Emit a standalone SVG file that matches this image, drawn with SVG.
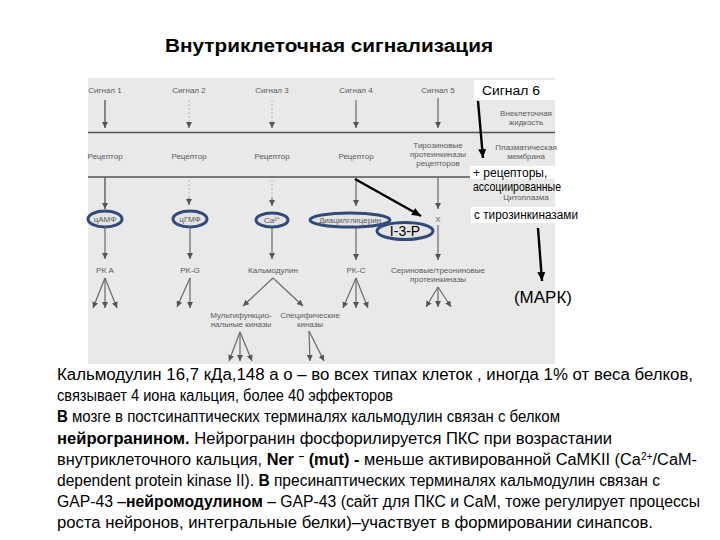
<svg xmlns="http://www.w3.org/2000/svg" width="720" height="540" viewBox="0 0 720 540">
<style>
.t{font-family:"Liberation Sans",Arial,sans-serif;font-size:8px;fill:#5a5a5a;text-anchor:middle}
.e{fill:#e4e4e4;stroke:#2f4b7c;stroke-width:3}
.mem{stroke:#555;stroke-width:1.3}
.c{stroke:#6a6a6a;stroke-width:1.2;fill:none;marker-end:url(#ah)}
.cf{stroke:#a8a8a8;stroke-width:0.8;stroke-dasharray:2 2;fill:none}
.b{stroke:#000;stroke-width:2.4;fill:none;marker-end:url(#bh)}
.ov{font-family:"Liberation Sans",Arial,sans-serif;fill:#000}
.p{font-family:"Liberation Sans",Arial,sans-serif;font-size:16px;fill:#000}
.bold{font-weight:bold}
</style>
<defs>
<marker id="ah" markerWidth="8" markerHeight="8" refX="6" refY="3" orient="auto" markerUnits="userSpaceOnUse"><path d="M0,0 L6,3 L0,6 z" fill="#555"/></marker>
<marker id="bh" markerWidth="12" markerHeight="12" refX="9" refY="4" orient="auto" markerUnits="userSpaceOnUse"><path d="M0,0 L9,4 L0,8 z" fill="#000"/></marker>
</defs>
<rect width="720" height="540" fill="#fff"/>
<text x="329" y="52" class="ov bold" font-size="18" text-anchor="middle" textLength="328" lengthAdjust="spacingAndGlyphs">Внутриклеточная сигнализация</text>
<rect x="88" y="78" width="467" height="286" fill="#e9e9e9"/>
<line class="mem" x1="88" y1="132.5" x2="555" y2="132.5"/>
<line class="mem" x1="88" y1="177" x2="555" y2="177"/>
<g id="signals">
<text class="t" x="105" y="93">Сигнал 1</text>
<text class="t" x="189" y="93">Сигнал 2</text>
<text class="t" x="272" y="93">Сигнал 3</text>
<text class="t" x="356" y="93">Сигнал 4</text>
<text class="t" x="438" y="93">Сигнал 5</text>
</g>
<g id="zones">
<text class="t" x="526" y="116" font-size="7.5">Внеклеточная</text>
<text class="t" x="526" y="125" font-size="7.5">жидкость</text>
<text class="t" x="526" y="150" font-size="7.5">Плазматическая</text>
<text class="t" x="526" y="159" font-size="7.5">мембрана</text>
<text class="t" x="526" y="200" font-size="7.5">Цитоплазма</text>
</g>
<g id="receptors">
<text class="t" x="105" y="159">Рецептор</text>
<text class="t" x="189" y="159">Рецептор</text>
<text class="t" x="272" y="159">Рецептор</text>
<text class="t" x="356" y="159">Рецептор</text>
<text class="t" x="438" y="148" font-size="7.5">Тирозиновые</text>
<text class="t" x="438" y="157" font-size="7.5">протеинкиназы</text>
<text class="t" x="438" y="166" font-size="7.5">рецепторов</text>
</g>
<g id="camp"><ellipse class="e" cx="105" cy="219" rx="17" ry="8"/><text class="t" x="105" y="222" font-size="7.5">цАМФ</text></g>
<g id="cgmp"><ellipse class="e" cx="190" cy="219" rx="17" ry="8"/><text class="t" x="190" y="222" font-size="7.5">цГМФ</text></g>
<g id="ca"><ellipse class="e" cx="272" cy="220" rx="16" ry="7"/><text class="t" x="272" y="223" font-size="7.5">Ca²⁺</text></g>
<g id="dag"><ellipse class="e" cx="350" cy="220" rx="40" ry="7"/><text class="t" x="350" y="223" font-size="7.5">Диацилглицерин</text></g>
<g id="x"><text class="t" x="438" y="222">X</text></g>
<g id="ip3"><ellipse class="e" cx="405" cy="231" rx="28" ry="8.5"/><text class="ov" x="405" y="236" font-size="14" text-anchor="middle">I-3-P</text></g>
<g id="pka"><text class="t" x="105" y="273">PK A</text></g>
<g id="pkg"><text class="t" x="190" y="273">PK-G</text></g>
<g id="cam"><text class="t" x="273" y="273">Кальмодулин</text></g>
<g id="pkc"><text class="t" x="356" y="273">PK-C</text></g>
<g id="ser"><text class="t" x="438" y="273" font-size="7.5">Сериновые/треониновые</text><text class="t" x="438" y="282" font-size="7.5">протеинкиназы</text></g>
<g id="multi"><text class="t" x="241" y="318" font-size="7.5">Мультифункцио-</text><text class="t" x="241" y="327" font-size="7.5">нальные киназы</text></g>
<g id="spec"><text class="t" x="310" y="318" font-size="7.5">Специфические</text><text class="t" x="310" y="327" font-size="7.5">киназы</text></g>
<g id="sig6">
<rect x="474" y="80" width="81" height="20" fill="#fff"/>
<text class="ov" x="482" y="95" font-size="12.5" textLength="58" lengthAdjust="spacingAndGlyphs">Сигнал 6</text>
</g>
<g id="rtk">
<rect x="470" y="166" width="85" height="13" fill="#fff"/>
<text class="ov" x="473" y="177" font-size="12">+ рецепторы,</text>
<text class="ov" x="473" y="191" font-size="12" textLength="88" lengthAdjust="spacingAndGlyphs">ассоциированные</text>
<rect x="471" y="207" width="108" height="16" fill="#fff"/>
<text class="ov" x="474" y="219" font-size="12.5" textLength="104" lengthAdjust="spacingAndGlyphs">с тирозинкиназами</text>
</g>
<g id="mapk"><text class="ov" x="543" y="303" font-size="17" text-anchor="middle">(МАРК)</text></g>
<g id="connectors">
<path class="c" d="M105,100 V128" style="stroke:#444"/>
<path class="cf" d="M189,100 V122"/><path class="c" d="M189,122 V128"/>
<path class="cf" d="M272,100 V122"/><path class="c" d="M272,122 V128"/>
<path class="c" d="M356,100 V128"/>
<path class="c" d="M438,98 V128"/>
<path class="c" d="M105,177 V209" style="stroke:#444"/>
<path class="cf" d="M189,180 V198"/><path class="c" d="M189,198 V205"/>
<path class="cf" d="M272,180 V198"/><path class="c" d="M272,198 V206"/>
<path class="c" d="M356,177 V206"/>
<path class="c" d="M438,177 V209"/>
<path class="c" d="M105,227 V259"/>
<path class="c" d="M190,227 V259"/>
<path class="c" d="M272,228 V259"/>
<path class="c" d="M356,228 V260"/>
<path class="c" d="M438,225 V260"/>
<path class="c" d="M105,278 L93,308"/><path class="c" d="M105,278 V308"/><path class="c" d="M105,278 L117,308"/>
<path class="c" d="M190,278 L177,307"/><path class="c" d="M190,278 V308"/>
<path class="c" d="M273,278 L243,306"/><path class="c" d="M273,278 L303,306"/>
<path class="c" d="M240,332 L229,361"/><path class="c" d="M240,332 V361"/><path class="c" d="M240,332 L252,361"/>
<path class="c" d="M309,331 L310,361"/><path class="c" d="M309,331 L324,361"/>
<path class="c" d="M356,278 L343,308"/><path class="c" d="M356,278 V308"/><path class="c" d="M356,278 L368,308"/>
<path class="c" d="M438,287 L426,307"/><path class="c" d="M438,287 V307"/><path class="c" d="M438,287 L451,307"/>
<path class="b" d="M355,179 L421,216"/>
<path class="b" d="M478,101 L483,158"/>
<path class="b" d="M538,228 L542,281"/>
</g>
<g id="notes">
<text class="p" x="57" y="380" textLength="636" lengthAdjust="spacingAndGlyphs">Кальмодулин 16,7 кДа,148 а о  – во всех типах клеток , иногда 1% от веса белков,</text>
<text class="p" x="57" y="401" textLength="336" lengthAdjust="spacingAndGlyphs">связывает 4 иона кальция, более 40 эффекторов</text>
<text class="p" x="57" y="422" textLength="503" lengthAdjust="spacingAndGlyphs"><tspan class="bold">В</tspan> мозге в постсинаптических терминалях кальмодулин связан с белком</text>
<text class="p" x="57" y="444" textLength="555" lengthAdjust="spacingAndGlyphs"><tspan class="bold">нейрогранином.</tspan> Нейрогранин фосфорилируется ПКС при возрастании</text>
<text class="p" x="57" y="465" textLength="640" lengthAdjust="spacingAndGlyphs">внутриклеточного кальция, <tspan class="bold">Ner </tspan><tspan class="bold" font-size="10" dy="-5">–</tspan><tspan class="bold" dy="5"> (mut)  -</tspan> меньше активированной CaMKII (Ca<tspan font-size="10" dy="-5">2+</tspan><tspan dy="5">/CaM-</tspan></text>
<text class="p" x="57" y="486" textLength="603" lengthAdjust="spacingAndGlyphs">dependent protein kinase II). <tspan class="bold">В</tspan> пресинаптических терминалях кальмодулин связан с</text>
<text class="p" x="57" y="507" textLength="643" lengthAdjust="spacingAndGlyphs">GAP-43 –<tspan class="bold">нейромодулином</tspan> – GAP-43 (сайт для ПКС и CaM, тоже регулирует процессы</text>
<text class="p" x="57" y="528" textLength="596" lengthAdjust="spacingAndGlyphs">роста нейронов, интегральные белки)–участвует в формировании синапсов.</text>
</g>
</svg>
